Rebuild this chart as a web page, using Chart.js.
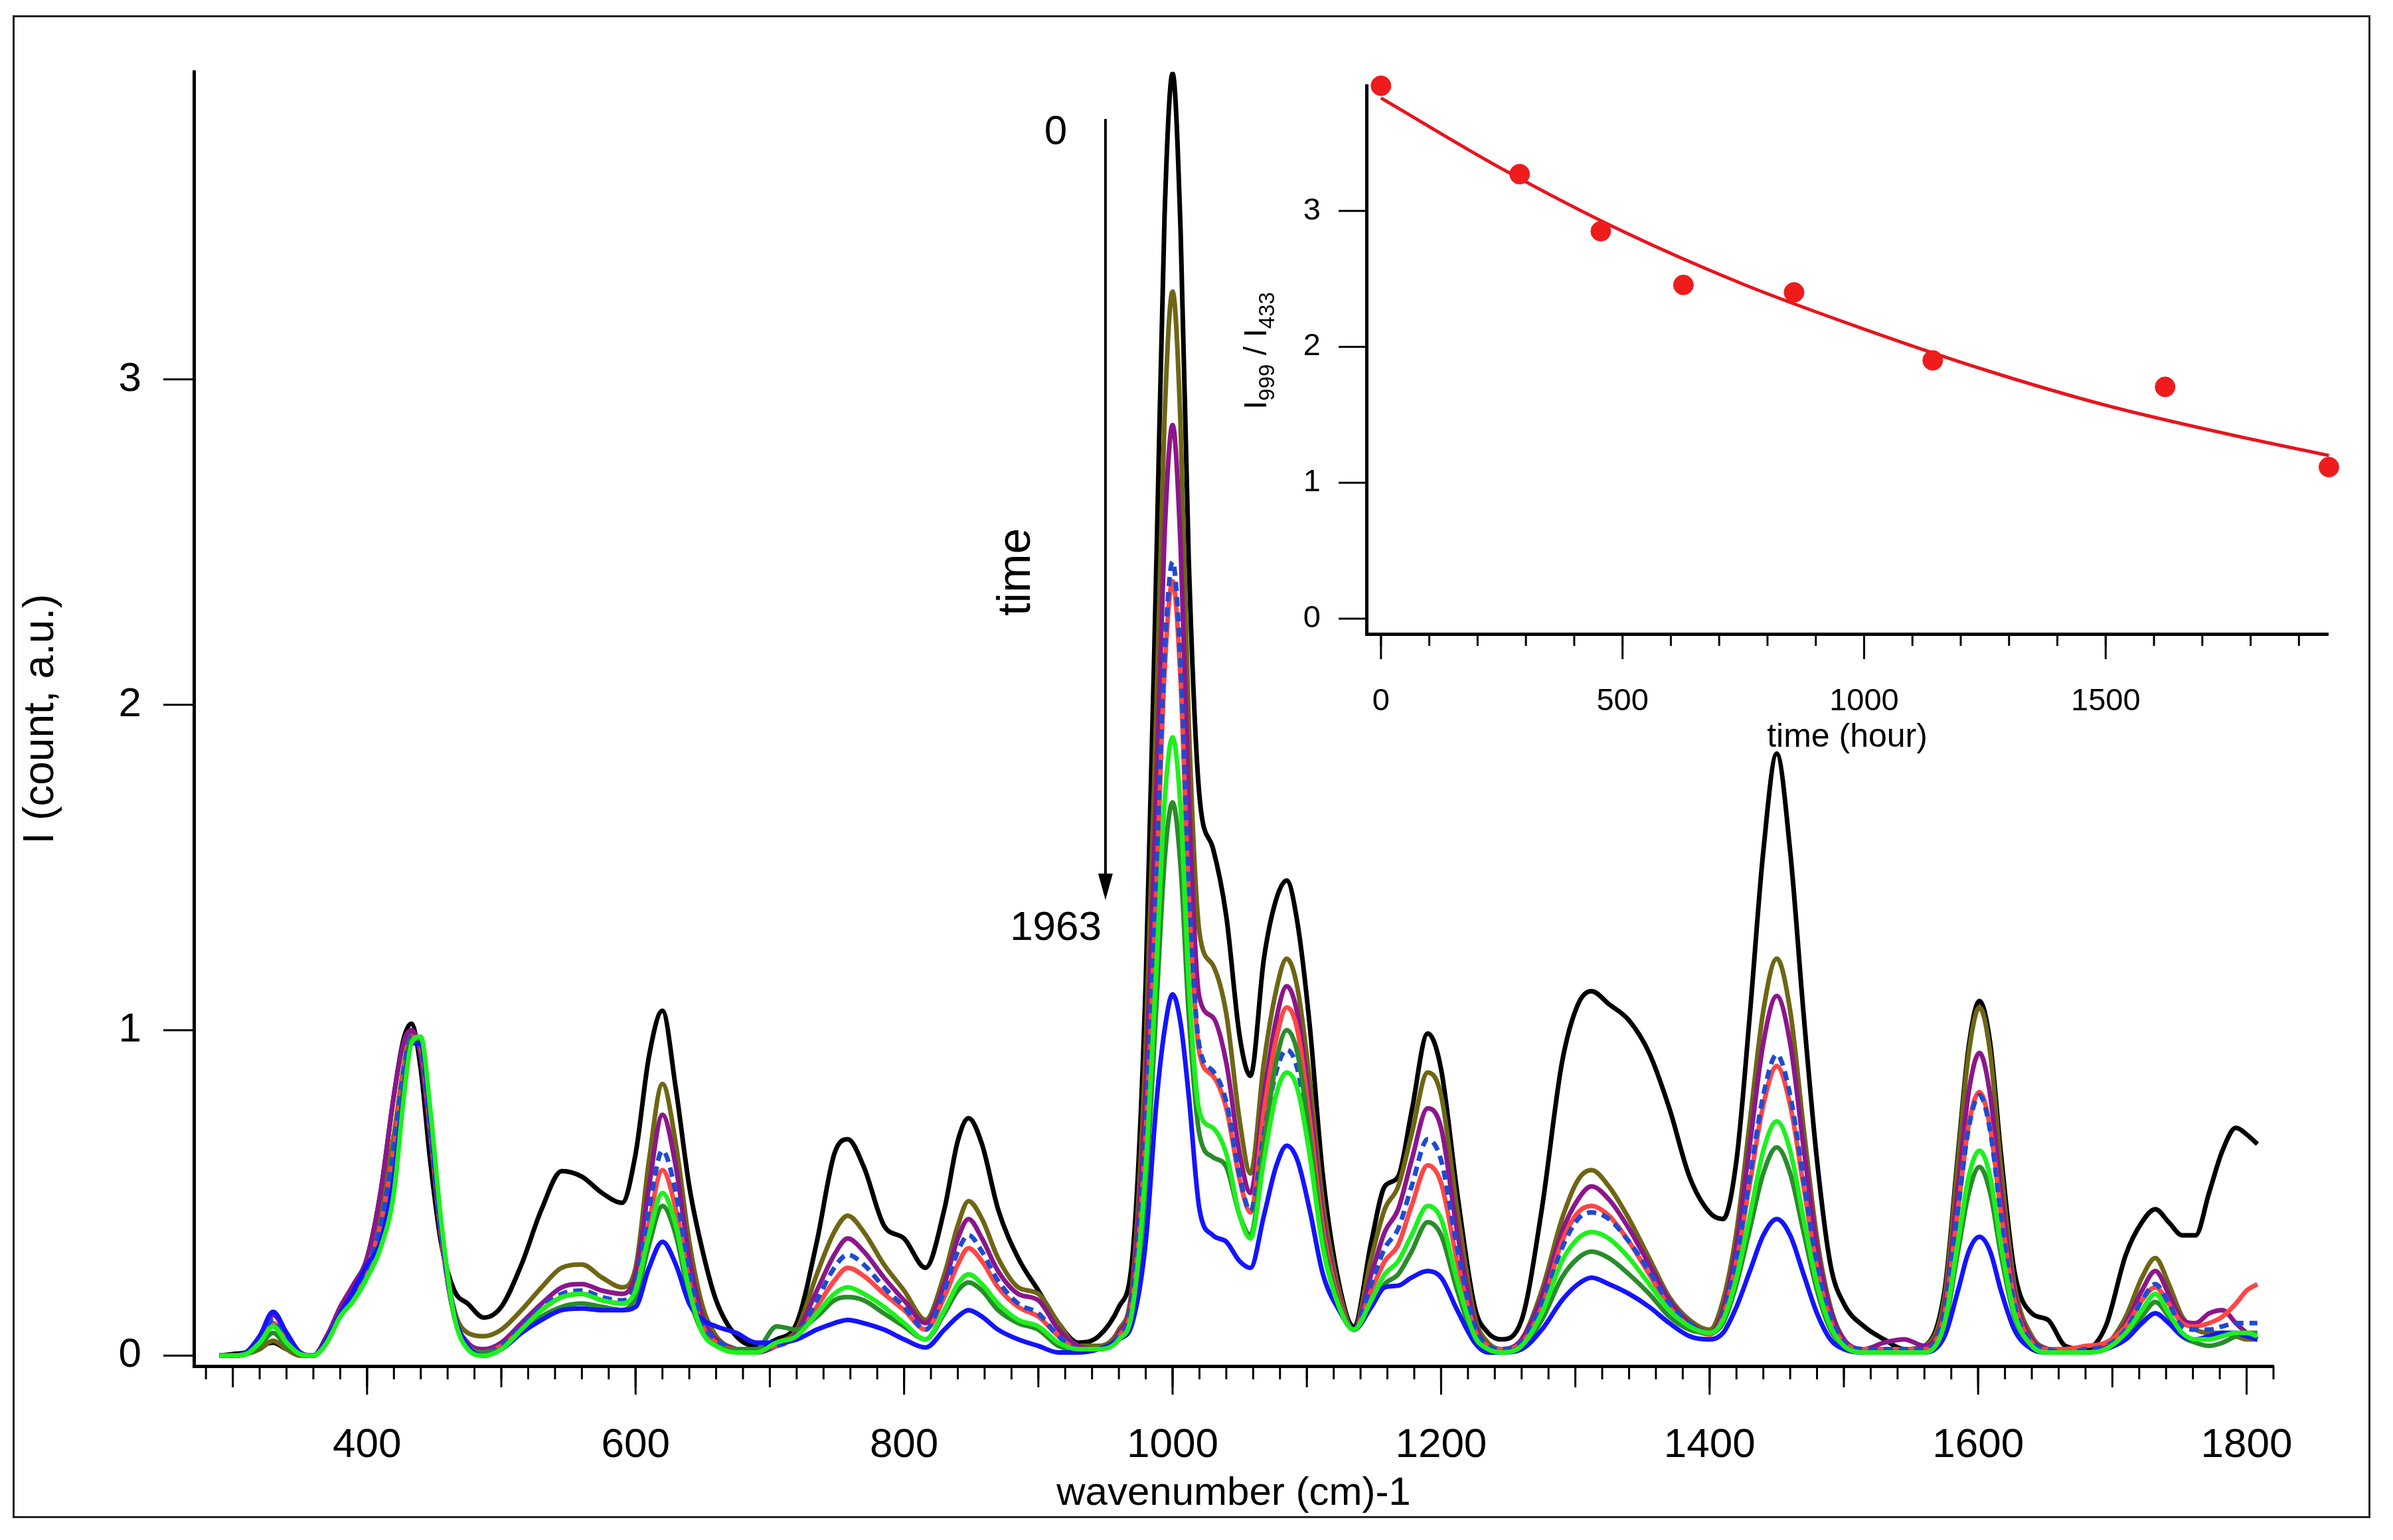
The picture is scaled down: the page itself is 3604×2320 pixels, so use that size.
<!DOCTYPE html>
<html lang="en">

<head>
  <meta charset="UTF-8">
  <title>Spectra over time</title>
  <script src="https://cdn.jsdelivr.net/npm/chart.js"></script>
  <style>
    body {
      margin: 0;
      background: #fff;
    }

    #frame {
      position: absolute;
      left: 19px;
      top: 23px;
      width: 3551px;
      height: 2264px;
      border: 3px solid #222;
      box-sizing: border-box;
    }

    #mainCanvas {
      position: absolute;
      left: 0;
      top: 0;
    }

    #insetCanvas {
      position: absolute;
      left: 1850px;
      top: 40px;
    }
  </style>
</head>

<body>
  <div id="frame"></div>
  <canvas id="mainCanvas" width="3604" height="2320"></canvas>
  <canvas id="insetCanvas" width="1720" height="1140"></canvas>

  <script>
    // shared wavenumber grid (cm-1)
    const wavenumber = [
      290, 300, 310, 320, 330, 340, 350, 360, 370, 380,
      390, 400, 410, 420, 427, 433, 440, 447, 455, 465,
      475, 487, 500, 515, 530, 545, 560, 575, 590, 600,
      610, 620, 630, 640, 650, 660, 675, 690, 705, 720,
      735, 748, 758, 770, 785, 800, 816, 830, 840, 848,
      858, 870, 885, 900, 915, 930, 945, 960, 970, 980,
      988, 994, 1000, 1006, 1012, 1020, 1030, 1040, 1050, 1058,
      1068, 1077, 1085, 1093, 1102, 1112, 1124, 1135, 1148, 1158,
      1168, 1178, 1190, 1200, 1212, 1225, 1235, 1245, 1260, 1275,
      1290, 1302, 1312, 1325, 1340, 1355, 1370, 1385, 1400, 1410,
      1420, 1430, 1440, 1450, 1460, 1470, 1480, 1490, 1500, 1515,
      1530, 1545, 1560, 1575, 1585, 1593, 1601, 1609, 1617, 1627,
      1640, 1652, 1665, 1680, 1695, 1710, 1722, 1732, 1742, 1752,
      1762, 1772, 1782, 1792, 1800, 1808
    ];

    const spectrum0 = [
      0, 0.005, 0.01, 0.03, 0.04, 0.02, 0.005, 0, 0.06, 0.14,
      0.21, 0.3, 0.5, 0.8, 0.97, 1.02, 0.88, 0.6, 0.35, 0.2,
      0.16, 0.117, 0.15, 0.28, 0.45, 0.567, 0.55, 0.5, 0.47, 0.62,
      0.92, 1.06, 0.82, 0.52, 0.32, 0.17, 0.06, 0.03, 0.05, 0.1,
      0.35, 0.62, 0.665, 0.58, 0.4, 0.36, 0.27, 0.45, 0.66, 0.73,
      0.65, 0.45, 0.3, 0.2, 0.1, 0.04, 0.06, 0.15, 0.3, 1.15,
      2.45, 3.5, 3.94, 3.45, 2.45, 1.72, 1.56, 1.35, 0.98, 0.86,
      1.22, 1.4, 1.46, 1.33, 1.02, 0.55, 0.22, 0.09, 0.35, 0.52,
      0.55, 0.75, 0.99, 0.88, 0.5, 0.15, 0.07, 0.05, 0.11, 0.45,
      0.9, 1.08, 1.12, 1.08, 1.03, 0.93, 0.76, 0.55, 0.44, 0.42,
      0.6, 1.05, 1.55, 1.85, 1.55, 1.05, 0.6, 0.28, 0.16, 0.09,
      0.05, 0.02, 0.03, 0.2, 0.62, 0.95, 1.09, 0.96, 0.62, 0.26,
      0.13, 0.11, 0.03, 0.02, 0.09, 0.31, 0.41, 0.45, 0.41, 0.37,
      0.37, 0.5, 0.63, 0.7, 0.68, 0.65
    ];

    const spectrum287 = [
      0, 0, 0.005, 0.02, 0.046, 0.02, 0, 0, 0.05, 0.13,
      0.19, 0.28, 0.45, 0.68, 0.88, 0.99, 0.94, 0.7, 0.38, 0.14,
      0.07, 0.06, 0.08, 0.14, 0.21, 0.27, 0.28, 0.24, 0.21, 0.27,
      0.6, 0.835, 0.65, 0.35, 0.15, 0.06, 0.02, 0.01, 0.04, 0.08,
      0.25, 0.38, 0.43, 0.38, 0.28, 0.2, 0.11, 0.25, 0.4, 0.475,
      0.42, 0.3, 0.21, 0.19, 0.1, 0.03, 0.03, 0.08, 0.22, 0.95,
      2.0, 2.88, 3.27, 2.85, 1.95, 1.3, 1.2, 1.05, 0.72, 0.56,
      0.9, 1.12, 1.22, 1.13, 0.85, 0.47, 0.2, 0.08, 0.3, 0.45,
      0.52, 0.68, 0.87, 0.8, 0.45, 0.12, 0.04, 0.02, 0.05, 0.2,
      0.42, 0.54, 0.57, 0.52, 0.42, 0.3, 0.18, 0.11, 0.08, 0.17,
      0.38, 0.72, 1.06, 1.22, 1.06, 0.7, 0.36, 0.15, 0.05, 0.02,
      0.02, 0.02, 0.03, 0.18, 0.6, 0.93, 1.07, 0.93, 0.58, 0.22,
      0.06, 0.02, 0.01, 0.01, 0.03, 0.12, 0.24, 0.3, 0.22, 0.12,
      0.08, 0.07, 0.07, 0.06, 0.05, 0.05
    ];

    const spectrum455 = [
      0, 0, 0.01, 0.06, 0.125, 0.07, 0.01, 0, 0.06, 0.15,
      0.22, 0.3, 0.5, 0.8, 0.96, 1.0, 0.92, 0.68, 0.37, 0.12,
      0.04, 0.02, 0.04, 0.1, 0.16, 0.21, 0.22, 0.2, 0.19, 0.25,
      0.52, 0.74, 0.58, 0.3, 0.12, 0.05, 0.02, 0.01, 0.03, 0.07,
      0.2, 0.31, 0.36, 0.32, 0.24, 0.17, 0.1, 0.22, 0.36, 0.42,
      0.36, 0.26, 0.19, 0.17, 0.08, 0.03, 0.02, 0.07, 0.2, 0.82,
      1.75, 2.52, 2.86, 2.48, 1.72, 1.1, 1.04, 0.9, 0.62, 0.5,
      0.8, 1.03, 1.135, 1.05, 0.78, 0.42, 0.18, 0.08, 0.25, 0.38,
      0.45, 0.6, 0.76, 0.7, 0.38, 0.1, 0.03, 0.02, 0.05, 0.18,
      0.38, 0.48, 0.52, 0.48, 0.39, 0.28, 0.17, 0.1, 0.07, 0.14,
      0.34, 0.65, 0.96, 1.105, 0.96, 0.64, 0.33, 0.14, 0.05, 0.02,
      0.04, 0.05, 0.03, 0.15, 0.52, 0.81, 0.93, 0.8, 0.5, 0.19,
      0.05, 0.02, 0.01, 0.01, 0.03, 0.1, 0.2, 0.26, 0.19, 0.11,
      0.1, 0.13, 0.14, 0.1, 0.07, 0.05
    ];

    const spectrum626 = [
      0, 0, 0.01, 0.05, 0.11, 0.06, 0.01, 0, 0.05, 0.13,
      0.19, 0.27, 0.4, 0.64, 0.87, 0.98, 0.95, 0.7, 0.38, 0.12,
      0.03, 0.01, 0.03, 0.09, 0.15, 0.19, 0.2, 0.18, 0.17, 0.22,
      0.45, 0.63, 0.5, 0.26, 0.1, 0.05, 0.02, 0.02, 0.03, 0.06,
      0.17, 0.27, 0.31, 0.28, 0.21, 0.15, 0.08, 0.2, 0.32, 0.37,
      0.32, 0.23, 0.16, 0.13, 0.06, 0.02, 0.02, 0.06, 0.17, 0.7,
      1.5, 2.15, 2.44, 2.12, 1.45, 0.95, 0.875, 0.78, 0.55, 0.445,
      0.68, 0.87, 0.94, 0.88, 0.66, 0.36, 0.16, 0.08, 0.22, 0.33,
      0.39, 0.52, 0.665, 0.6, 0.33, 0.09, 0.03, 0.02, 0.04, 0.16,
      0.33, 0.42, 0.44, 0.42, 0.35, 0.26, 0.16, 0.1, 0.07, 0.12,
      0.3, 0.55, 0.8, 0.925, 0.8, 0.54, 0.28, 0.12, 0.04, 0.02,
      0.02, 0.02, 0.02, 0.13, 0.45, 0.7, 0.8, 0.69, 0.43, 0.16,
      0.04, 0.02, 0.01, 0.02, 0.03, 0.08, 0.17, 0.22, 0.16, 0.09,
      0.08, 0.08, 0.09, 0.1, 0.1, 0.1
    ];

    const spectrum855 = [
      0, 0, 0.01, 0.05, 0.1, 0.05, 0.01, 0, 0.05, 0.13,
      0.19, 0.27, 0.4, 0.64, 0.87, 0.98, 0.95, 0.7, 0.38, 0.12,
      0.03, 0.01, 0.03, 0.08, 0.14, 0.18, 0.19, 0.17, 0.16, 0.2,
      0.41, 0.57, 0.45, 0.23, 0.09, 0.04, 0.02, 0.02, 0.03, 0.06,
      0.15, 0.23, 0.27, 0.245, 0.19, 0.14, 0.08, 0.18, 0.28, 0.33,
      0.29, 0.21, 0.15, 0.12, 0.06, 0.02, 0.02, 0.06, 0.17, 0.68,
      1.45, 2.1, 2.38, 2.07, 1.42, 0.93, 0.86, 0.76, 0.54, 0.44,
      0.75, 0.97, 1.07, 1.0, 0.73, 0.39, 0.17, 0.08, 0.2, 0.29,
      0.34, 0.46, 0.585, 0.53, 0.29, 0.08, 0.03, 0.02, 0.04, 0.15,
      0.35, 0.44, 0.46, 0.43, 0.35, 0.25, 0.15, 0.09, 0.065, 0.12,
      0.29, 0.53, 0.77, 0.89, 0.77, 0.52, 0.27, 0.11, 0.04, 0.02,
      0.02, 0.02, 0.02, 0.13, 0.45, 0.71, 0.81, 0.7, 0.44, 0.17,
      0.04, 0.02, 0.02, 0.03, 0.04, 0.09, 0.17, 0.21, 0.16, 0.1,
      0.09, 0.1, 0.12, 0.16, 0.2, 0.22
    ];

    const spectrum1142 = [
      0, 0, 0.005, 0.04, 0.09, 0.04, 0.005, 0, 0.04, 0.12,
      0.17, 0.24, 0.33, 0.5, 0.78, 0.96, 0.98, 0.76, 0.42, 0.12,
      0.02, 0, 0.02, 0.08, 0.14, 0.18, 0.19, 0.17, 0.16, 0.2,
      0.37, 0.5, 0.4, 0.2, 0.07, 0.03, 0.01, 0.01, 0.04, 0.06,
      0.13, 0.19, 0.21, 0.19, 0.15, 0.1, 0.05, 0.14, 0.22, 0.25,
      0.22, 0.16, 0.11, 0.09, 0.04, 0.02, 0.02, 0.05, 0.14, 0.58,
      1.2, 1.7, 1.9, 1.68, 1.15, 0.75, 0.7, 0.62, 0.43, 0.36,
      0.6, 0.8, 0.87, 0.82, 0.62, 0.33, 0.15, 0.08, 0.17, 0.25,
      0.29, 0.37, 0.46, 0.42, 0.23, 0.06, 0.02, 0.01, 0.03, 0.13,
      0.29, 0.36, 0.38, 0.36, 0.3, 0.22, 0.14, 0.09, 0.07, 0.11,
      0.24, 0.43, 0.63, 0.72, 0.63, 0.42, 0.22, 0.09, 0.03, 0.01,
      0.01, 0.01, 0.01, 0.1, 0.35, 0.55, 0.63, 0.55, 0.34, 0.13,
      0.03, 0.01, 0.01, 0.01, 0.02, 0.07, 0.14, 0.19, 0.13, 0.07,
      0.05, 0.05, 0.06, 0.07, 0.07, 0.06
    ];

    const spectrum1623 = [
      0, 0, 0.005, 0.03, 0.07, 0.03, 0.005, 0, 0.04, 0.12,
      0.17, 0.24, 0.34, 0.55, 0.82, 0.97, 0.96, 0.73, 0.4, 0.12,
      0.03, 0.01, 0.02, 0.07, 0.12, 0.15, 0.16, 0.15, 0.14, 0.18,
      0.34, 0.46, 0.37, 0.18, 0.07, 0.03, 0.02, 0.02, 0.09, 0.08,
      0.12, 0.17, 0.18, 0.17, 0.13, 0.09, 0.05, 0.13, 0.2, 0.225,
      0.2, 0.14, 0.1, 0.08, 0.03, 0.02, 0.02, 0.05, 0.13, 0.52,
      1.08, 1.52, 1.7, 1.5, 1.05, 0.68, 0.61, 0.58, 0.43, 0.37,
      0.65, 0.9, 1.0, 0.93, 0.68, 0.36, 0.16, 0.08, 0.15, 0.22,
      0.25, 0.32, 0.41, 0.37, 0.2, 0.05, 0.02, 0.01, 0.03, 0.11,
      0.24, 0.3, 0.32, 0.3, 0.25, 0.19, 0.12, 0.08, 0.07, 0.1,
      0.22, 0.39, 0.56, 0.64, 0.56, 0.38, 0.2, 0.08, 0.03, 0.01,
      0.01, 0.01, 0.01, 0.09, 0.32, 0.5, 0.58, 0.5, 0.31, 0.12,
      0.03, 0.01, 0.01, 0.01, 0.02, 0.06, 0.12, 0.165, 0.12, 0.06,
      0.04, 0.03, 0.04, 0.06, 0.07, 0.07
    ];

    const spectrum1963 = [
      0, 0, 0.01, 0.06, 0.135, 0.07, 0.01, 0, 0.05, 0.13,
      0.2, 0.28, 0.35, 0.55, 0.8, 0.96, 0.96, 0.73, 0.4, 0.13,
      0.03, 0, 0.02, 0.07, 0.11, 0.14, 0.145, 0.14, 0.14, 0.15,
      0.27, 0.35, 0.28, 0.16, 0.11, 0.09, 0.07, 0.04, 0.04, 0.05,
      0.08, 0.1, 0.11, 0.1, 0.08, 0.05, 0.025, 0.08, 0.12, 0.14,
      0.12, 0.08, 0.05, 0.03, 0.01, 0.01, 0.02, 0.05, 0.1, 0.35,
      0.78, 1.0, 1.11, 1.02, 0.8, 0.45, 0.37, 0.35, 0.29, 0.27,
      0.43, 0.58, 0.645, 0.6, 0.45, 0.25, 0.14, 0.08, 0.15, 0.21,
      0.215, 0.24, 0.26, 0.24, 0.14, 0.04, 0.01, 0.01, 0.02, 0.08,
      0.17, 0.22, 0.24, 0.22, 0.19, 0.15, 0.1, 0.06, 0.05, 0.07,
      0.15, 0.26, 0.37, 0.42, 0.37, 0.25, 0.13, 0.05, 0.02, 0.01,
      0.01, 0.01, 0.01, 0.06, 0.2, 0.32, 0.365, 0.32, 0.2, 0.08,
      0.02, 0.01, 0.01, 0.01, 0.02, 0.05, 0.1, 0.13, 0.1, 0.06,
      0.05, 0.06, 0.07, 0.07, 0.06, 0.05
    ];

    // inset: ratio of the 999 and 433 bands against ageing time
    const hours = [0, 287, 455, 626, 855, 1142, 1623, 1962];
    const ratio = [3.92, 3.27, 2.85, 2.455, 2.40, 1.90, 1.705, 1.115];
    const fitHours = [0, 250, 500, 750, 1000, 1250, 1500, 1750, 1962];
    const fitRatio = [3.83, 3.31, 2.85, 2.46, 2.13, 1.83, 1.57, 1.36, 1.2];

    // labelled tick values
    const mainXTicks = [400, 600, 800, 1000, 1200, 1400, 1600, 1800];
    const mainYTicks = [0, 1, 2, 3];
    const insetXTicks = [0, 500, 1000, 1500];
    const insetYTicks = [0, 1, 2, 3];

    const spectra = [spectrum0, spectrum287, spectrum455, spectrum626,
      spectrum855, spectrum1142, spectrum1623, spectrum1963];
    const lineColors = ['#000000', '#6e6614', '#8c168c', '#1e4bd2',
      '#ff4646', '#1ef01e', '#2a8c2a', '#1414ff'];
    // first entry is painted last (on top)
    const drawOrder = [5, 7, 6, 3, 4, 2, 1, 0];

    const FONT = '"Liberation Sans", Arial, Helvetica, sans-serif';
    Chart.defaults.font.family = FONT;
    Chart.defaults.color = '#000';

    const fixTicks = values => scale => {
      scale.ticks = values.map(v => ({ value: v }));
    };

    // outward tick marks of several lengths
    function tickPlugin(levels) {
      return {
        id: 'tickMarks',
        afterDraw(chart) {
          const ctx = chart.ctx;
          ctx.save();
          ctx.strokeStyle = '#000';
          ctx.lineWidth = 3;
          for (const id in levels) {
            const scale = chart.scales[id];
            for (const lv of levels[id]) {
              for (let k = Math.ceil(scale.min / lv.step); k * lv.step <= scale.max; k++) {
                const p = scale.getPixelForValue(k * lv.step);
                ctx.beginPath();
                if (scale.isHorizontal()) {
                  ctx.moveTo(p, scale.top);
                  ctx.lineTo(p, scale.top + lv.len);
                } else {
                  ctx.moveTo(scale.right, p);
                  ctx.lineTo(scale.right - lv.len, p);
                }
                ctx.stroke();
              }
            }
          }
          ctx.restore();
        }
      };
    }

    // arrow and time labels inside the main plot (data coordinates)
    const arrowAt = { x: 950, top: 3.80, tip: 1.40 };
    const startLabelAt = { x: 913, y: 3.757 };
    const endLabelAt = { x: 913, y: 1.312 };
    const timeWordAt = { x: 884, y: 2.408 };

    const mainNotes = {
      id: 'mainNotes',
      afterDraw(chart) {
        const { ctx, scales: { x, y } } = chart;
        ctx.save();
        ctx.fillStyle = '#000';
        ctx.strokeStyle = '#000';
        ctx.textAlign = 'center';
        ctx.textBaseline = 'middle';
        ctx.font = '62px ' + FONT;
        ctx.fillText(String(hours[0]), x.getPixelForValue(startLabelAt.x), y.getPixelForValue(startLabelAt.y));
        ctx.fillText('1963', x.getPixelForValue(endLabelAt.x), y.getPixelForValue(endLabelAt.y));

        ctx.save();
        ctx.translate(x.getPixelForValue(timeWordAt.x), y.getPixelForValue(timeWordAt.y));
        ctx.rotate(-Math.PI / 2);
        ctx.font = '70px ' + FONT;
        ctx.fillText('time', 0, 0);
        ctx.restore();

        const ax = x.getPixelForValue(arrowAt.x);
        const ay0 = y.getPixelForValue(arrowAt.top);
        const ay1 = y.getPixelForValue(arrowAt.tip);
        ctx.lineWidth = 4;
        ctx.beginPath();
        ctx.moveTo(ax, ay0);
        ctx.lineTo(ax, ay1 - 30);
        ctx.stroke();
        ctx.beginPath();
        ctx.moveTo(ax, ay1);
        ctx.lineTo(ax - 11, ay1 - 40);
        ctx.lineTo(ax + 11, ay1 - 40);
        ctx.closePath();
        ctx.fill();
        ctx.restore();
      }
    };

    new Chart(document.getElementById('mainCanvas'), {
      type: 'line',
      data: {
        datasets: drawOrder.map(i => ({
          label: hours[i] + ' h',
          data: wavenumber.map((w, j) => ({ x: w, y: spectra[i][j] })),
          borderColor: lineColors[i],
          borderWidth: 7,
          borderDash: i === 3 ? [14, 9] : [],
          pointRadius: 0,
          cubicInterpolationMode: 'monotone',
          fill: false
        }))
      },
      options: {
        responsive: false,
        animation: false,
        devicePixelRatio: 1,
        events: [],
        layout: { padding: { top: 97, right: 180, left: 0, bottom: 0 } },
        plugins: { legend: { display: false }, tooltip: { enabled: false } },
        scales: {
          x: {
            type: 'linear',
            min: 271,
            max: 1820,
            grid: { display: false },
            border: { display: true, color: '#000', width: 5 },
            afterBuildTicks: fixTicks(mainXTicks),
            ticks: {
              autoSkip: false,
              maxRotation: 0,
              padding: 75,
              font: { size: 62 },
              callback: v => String(v)
            },
            title: {
              display: true,
              text: 'wavenumber (cm)-1',
              font: { size: 60 },
              padding: { top: 0, bottom: 34 }
            },
            afterFit: s => { s.height = 262; }
          },
          y: {
            type: 'linear',
            min: -0.032,
            max: 3.945,
            grid: { display: false },
            border: { display: true, color: '#000', width: 5 },
            afterBuildTicks: fixTicks(mainYTicks),
            ticks: {
              autoSkip: false,
              padding: 71,
              font: { size: 62 },
              callback: v => String(v)
            },
            title: {
              display: true,
              text: 'I (count, a.u.)',
              font: { size: 64 },
              padding: { top: 24, bottom: 0 }
            },
            afterFit: s => { s.width = 292; }
          }
        }
      },
      plugins: [tickPlugin({
        x: [{ step: 20, len: 20 }, { step: 100, len: 32 }, { step: 200, len: 43 }],
        y: [{ step: 1, len: 46 }]
      }), mainNotes]
    });

    // rotated y label with subscripts for the inset
    const insetLabel = {
      id: 'insetLabel',
      afterDraw(chart) {
        const { ctx, scales: { y } } = chart;
        const parts = [['I', 48, 0], ['999', 33, 12], [' / ', 48, 0], ['I', 48, 0], ['433', 33, 12]];
        ctx.save();
        ctx.translate(chart.chartArea.left - 168, y.getPixelForValue(1.97));
        ctx.rotate(-Math.PI / 2);
        ctx.fillStyle = '#000';
        ctx.textBaseline = 'alphabetic';
        let total = 0;
        for (const [t, s] of parts) {
          ctx.font = s + 'px ' + FONT;
          total += ctx.measureText(t).width;
        }
        let px = -total / 2;
        for (const [t, s, dy] of parts) {
          ctx.font = s + 'px ' + FONT;
          ctx.fillText(t, px, 17 + dy);
          px += ctx.measureText(t).width;
        }
        ctx.restore();
      }
    };

    new Chart(document.getElementById('insetCanvas'), {
      type: 'scatter',
      data: {
        datasets: [{
          data: hours.map((h, i) => ({ x: h, y: ratio[i] })),
          backgroundColor: '#ee1c1c',
          borderColor: '#ee1c1c',
          pointRadius: 15,
          showLine: false,
          clip: false
        }, {
          data: fitHours.map((h, i) => ({ x: h, y: fitRatio[i] })),
          borderColor: '#e8141e',
          borderWidth: 5,
          pointRadius: 0,
          showLine: true,
          cubicInterpolationMode: 'monotone',
          clip: false
        }]
      },
      options: {
        responsive: false,
        animation: false,
        devicePixelRatio: 1,
        events: [],
        layout: { padding: { top: 52, right: 64, left: 0, bottom: 0 } },
        plugins: { legend: { display: false }, tooltip: { enabled: false } },
        scales: {
          x: {
            type: 'linear',
            min: -30,
            max: 1960,
            grid: { display: false },
            border: { display: true, color: '#000', width: 5 },
            afterBuildTicks: fixTicks(insetXTicks),
            ticks: {
              autoSkip: false,
              maxRotation: 0,
              padding: 66,
              font: { size: 47 },
              callback: v => String(v)
            },
            title: {
              display: true,
              text: 'time (hour)',
              font: { size: 50 },
              padding: { top: 0, bottom: 39 }
            },
            afterFit: s => { s.height = 225; }
          },
          y: {
            type: 'linear',
            min: -0.112,
            max: 3.92,
            grid: { display: false },
            border: { display: true, color: '#000', width: 5 },
            afterBuildTicks: fixTicks(insetYTicks),
            ticks: {
              autoSkip: false,
              padding: 61,
              font: { size: 47 },
              callback: v => String(v)
            },
            afterFit: s => { s.width = 208; }
          }
        }
      },
      plugins: [tickPlugin({
        x: [{ step: 100, len: 18 }, { step: 500, len: 38 }],
        y: [{ step: 1, len: 42 }]
      }), insetLabel]
    });
  </script>
</body>

</html>
